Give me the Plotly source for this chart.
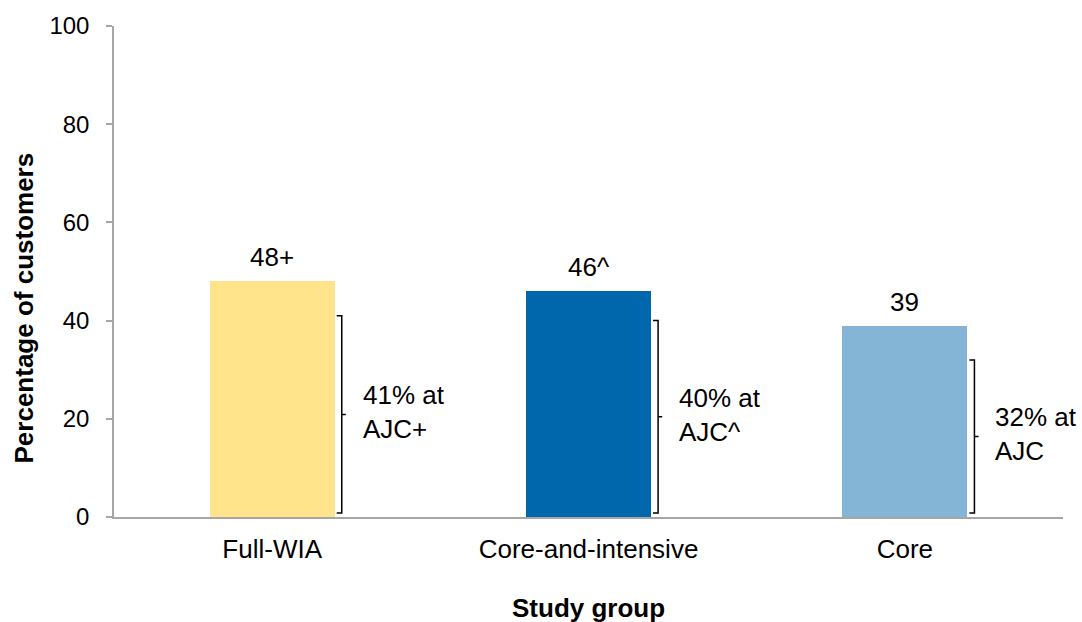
import plotly.graph_objects as go

# Study groups and their outcomes
groups = ["Full-WIA", "Core-and-intensive", "Core"]
pct_customers = [48, 46, 39]
value_labels = ["48+", "46^", "39"]
pct_at_ajc = [41, 40, 32]
ajc_labels = ["41% at<br>AJC+", "40% at<br>AJC^", "32% at<br>AJC"]
bar_colors = ["#FFE48B", "#0067AC", "#84B4D6"]

y_ticks = [0, 20, 40, 60, 80, 100]

FONT = "Liberation Sans, Arial, sans-serif"
FS = 26
TICK_FS = 24
AXIS_GRAY = "#A6A6A6"
BAR_WIDTH = 0.395
BRACKET_DX = 0.22      # bracket spine offset from category centre
SERIF = 0.016          # length of the bracket's end serifs
NOTCH = 0.013          # length of the middle notch
BRACKET_BASE = 0.8

fig = go.Figure()
fig.add_trace(go.Bar(
    x=list(range(len(groups))),
    y=pct_customers,
    width=BAR_WIDTH,
    marker=dict(color=bar_colors, line=dict(width=0)),
    hoverinfo="skip",
    showlegend=False,
))

annotations = []
shapes = []
for i, (v, lab, ajc, alab) in enumerate(zip(pct_customers, value_labels, pct_at_ajc, ajc_labels)):
    annotations.append(dict(
        x=i, y=v, xref="x", yref="y", text=lab, showarrow=False,
        yanchor="bottom", yshift=7, font=dict(family=FONT, size=FS, color="#000"),
    ))
    bx = i + BRACKET_DX
    mid = (ajc + BRACKET_BASE) / 2
    path = (f"M {bx - SERIF},{ajc} L {bx},{ajc} L {bx},{BRACKET_BASE} L {bx - SERIF},{BRACKET_BASE} "
            f"M {bx},{mid} L {bx + NOTCH},{mid}")
    shapes.append(dict(type="path", path=path, xref="x", yref="y",
                       line=dict(color="#000", width=1.5)))
    annotations.append(dict(
        x=bx, y=mid, xref="x", yref="y", text=alab, showarrow=False,
        xanchor="left", yanchor="middle", xshift=19, yshift=2, align="left",
        font=dict(family=FONT, size=FS, color="#000"),
    ))

# Axis titles
annotations.append(dict(
    x=0.5, y=0, xref="paper", yref="paper", text="<b>Study group</b>",
    showarrow=False, xanchor="center", yanchor="middle", yshift=-91,
    font=dict(family=FONT, size=FS, color="#000"),
))
annotations.append(dict(
    x=0, y=0.5, xref="paper", yref="paper", text="<b>Percentage of customers</b>",
    showarrow=False, xanchor="center", yanchor="middle", xshift=-91, yshift=-37,
    textangle=-90,
    font=dict(family=FONT, size=FS, color="#000"),
))

fig.update_layout(
    width=1082, height=622,
    margin=dict(l=114, r=19, t=26, b=105, autoexpand=False),
    paper_bgcolor="white", plot_bgcolor="white",
    font=dict(family=FONT, size=FS, color="#000"),
    annotations=annotations,
    shapes=shapes,
    bargap=0,
)
fig.update_xaxes(
    range=[-0.5, 2.5], automargin=False,
    tickmode="array", tickvals=list(range(len(groups))), ticktext=groups,
    tickfont=dict(family=FONT, size=FS),
    showline=True, linecolor=AXIS_GRAY, linewidth=1.5,
    ticks="", showgrid=False, zeroline=False,
    ticklabelstandoff=8,
)
fig.update_yaxes(
    range=[0, 100], automargin=False,
    tickmode="array", tickvals=y_ticks,
    tickfont=dict(family=FONT, size=TICK_FS),
    showline=True, linecolor=AXIS_GRAY, linewidth=1.5,
    ticks="outside", ticklen=6, tickcolor=AXIS_GRAY, tickwidth=1.5,
    showgrid=False, zeroline=False,
    ticklabelstandoff=12,
)

fig.write_html("out.html")
